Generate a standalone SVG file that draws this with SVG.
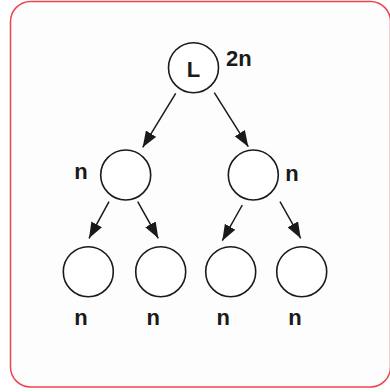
<svg xmlns="http://www.w3.org/2000/svg" width="390" height="392" viewBox="0 0 390 392">
<style>
.node{fill:#fff;stroke:#1a1a1a;stroke-width:1.6}
.lbl{font-family:"Liberation Sans",Arial,sans-serif;font-weight:bold;font-size:22px;fill:#1a1a1a}
.edge{stroke:#1a1a1a;stroke-width:1.5;fill:none;marker-end:url(#ah)}
</style>
<defs>
<marker id="ah" viewBox="0 0 16 12" refX="16" refY="6" markerWidth="16" markerHeight="12" markerUnits="userSpaceOnUse" orient="auto">
<path d="M0,0 L16,6 L0,12 Z" fill="#1a1a1a"/>
</marker>
</defs>
<rect x="10.5" y="1.5" width="380" height="385.5" rx="20" fill="#fdfdfd" stroke="#ee4350" stroke-width="1.5"/>
<g id="connectors">
<line class="edge" x1="175.7" y1="93.3" x2="142.7" y2="147.3"/>
<line class="edge" x1="214.3" y1="92.7" x2="248.3" y2="146.7"/>
<line class="edge" x1="109" y1="201.7" x2="89" y2="238.3"/>
<line class="edge" x1="137.7" y1="201.7" x2="158.3" y2="238.3"/>
<line class="edge" x1="242.3" y1="205" x2="222.3" y2="240.7"/>
<line class="edge" x1="280" y1="201.7" x2="300.7" y2="238.3"/>
</g>
<g id="root">
<circle class="node" cx="193.5" cy="67.7" r="25"/>
<text class="lbl" x="193.5" y="77" text-anchor="middle" font-size="24">L</text>
<text class="lbl" x="226" y="65.5">2n</text>
</g>
<g id="mid-left">
<circle class="node" cx="125.7" cy="175" r="25"/>
<text class="lbl" x="81" y="179" text-anchor="middle">n</text>
</g>
<g id="mid-right">
<circle class="node" cx="253.3" cy="175" r="25"/>
<text class="lbl" x="292" y="181" text-anchor="middle">n</text>
</g>
<g id="leaf1">
<circle class="node" cx="88.3" cy="271.7" r="25"/>
<text class="lbl" x="81" y="325" text-anchor="middle">n</text>
</g>
<g id="leaf2">
<circle class="node" cx="160.7" cy="271.7" r="25"/>
<text class="lbl" x="153.3" y="325" text-anchor="middle">n</text>
</g>
<g id="leaf3">
<circle class="node" cx="230.7" cy="271.7" r="25"/>
<text class="lbl" x="223.3" y="325" text-anchor="middle">n</text>
</g>
<g id="leaf4">
<circle class="node" cx="301.7" cy="271.7" r="25"/>
<text class="lbl" x="295" y="325" text-anchor="middle">n</text>
</g>
</svg>
